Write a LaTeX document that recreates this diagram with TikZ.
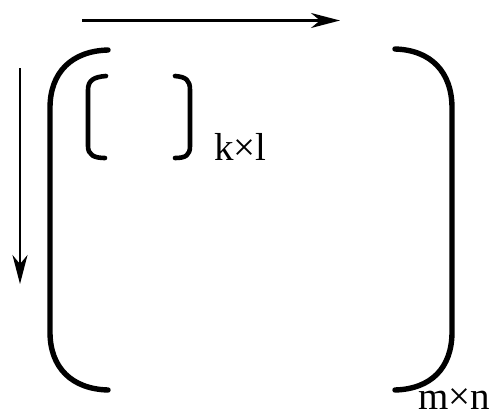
\documentclass[tikz,border=0pt]{standalone}
\usepackage{fontspec}
\setmainfont{Liberation Serif}
\usetikzlibrary{arrows.meta}
\begin{document}
\begin{tikzpicture}[x=1pt,y=-1pt,
  paren/.style={line width=5.4pt,line cap=round,line join=round},
  smallparen/.style={line width=4.6pt,line cap=round,line join=round},
  dirarrow/.style={line width=2.2pt,-{Stealth[length=29pt,width=15pt,inset=9pt]}},
  lbl/.style={inner sep=0pt,anchor=base west,font=\fontsize{39}{39}\selectfont}]
\useasboundingbox (0,0) rectangle (496,416);
% direction arrows
\coordinate (hs) at (82,20.5);
\coordinate (he) at (340,20.5);
\coordinate (vs) at (20,68);
\coordinate (ve) at (20,284);
\draw[dirarrow] (hs) -- (he);
\draw[dirarrow] (vs) -- (ve);
% big parentheses
\draw[paren] (108,50) .. controls (72,51) and (50,72) .. (50,108) -- (50,332)
  .. controls (50,368) and (72,389) .. (108,390);
\draw[paren] (395,49) .. controls (431,50) and (452,72) .. (452,108) -- (452,332)
  .. controls (452,368) and (431,389) .. (395,390);
% small brackets
\draw[smallparen] (106,76) .. controls (94,77) and (88,80) .. (88,90) -- (88,146)
  .. controls (88,155) and (94,158) .. (105,158);
\draw[smallparen] (175,76) .. controls (186,77) and (190,80) .. (190,90) -- (190,146)
  .. controls (190,155) and (186,158) .. (175,158);
% labels
\node[lbl] (kl) at (214,160) {k×l};
\node[lbl] (mn) at (418,409) {m×n};
\end{tikzpicture}
\end{document}
